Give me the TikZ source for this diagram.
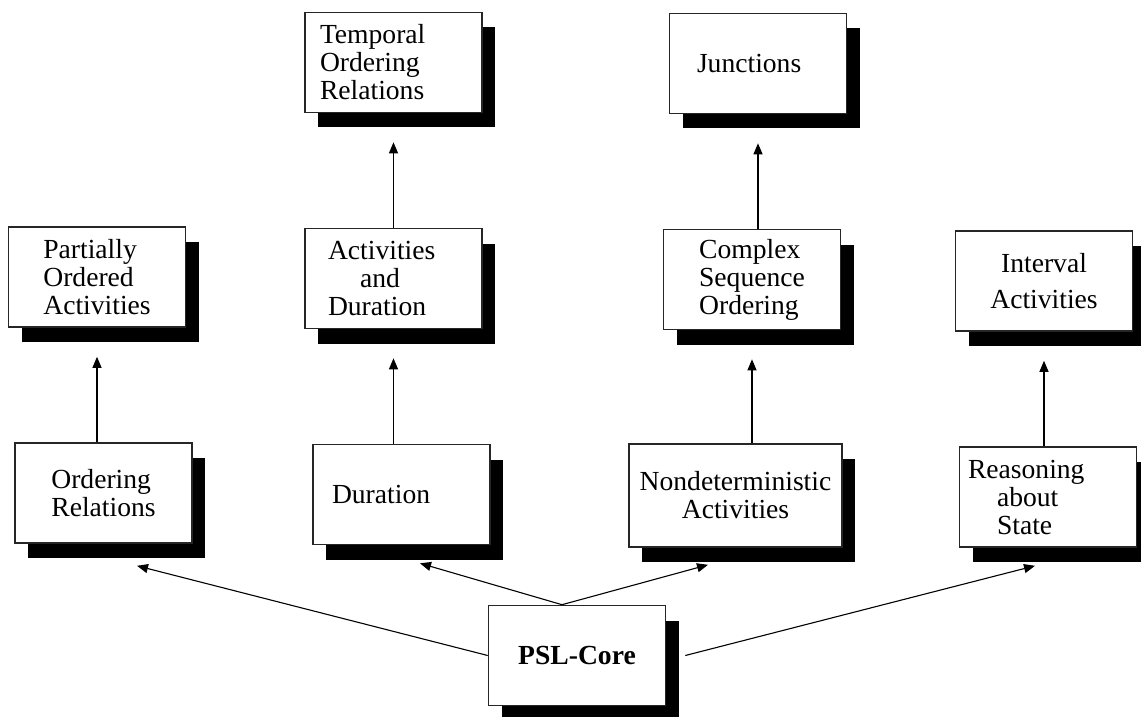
\documentclass[tikz,border=0pt]{standalone}
\usepackage{fontspec}
\setmainfont{Liberation Serif}
\usetikzlibrary{arrows.meta, positioning, shadows}
\tikzset{
  ->, % every connector is directed
  >={Triangle[length=5.5pt, width=4.5pt]}, % small solid heads
  node distance=108pt, % one row to the next
  box/.style={draw=black!85, line width=0.8pt, fill=white, rectangle,
    minimum width=88.5pt, minimum height=50pt, inner sep=0pt,
    align=left, font=\fontsize{13.8pt}{14pt}\selectfont,
    drop shadow={shadow xshift=6.5pt, shadow yshift=-7.5pt,
      fill=black, opacity=1}}, % black offset shadow
}

\begin{document}
\begin{tikzpicture}[x=0.5pt, y=-0.5pt, line width=0.55pt]
    \useasboundingbox (0,0) rectangle (1141,717);

    \node[box] (psl) at (577,655.5) {\textbf{PSL-Core}};
    \node[box] (ord) at (103.5,493) {Ordering\\Relations};
    \node[box, text width=69.5pt] (dur) at (401.5,494.5) {Duration};
    \node[box, minimum width=106.5pt, minimum height=51.5pt, align=center] (nondet) at (735.5,495.5) {Nondeterministic\\Activities};
    \node[box, text width=80pt] (reason) at (1048,497) {Reasoning\\\hspace*{14.5pt}about\\\hspace*{14.5pt}State};

    \node[box, above of=ord, xshift=-3.25pt] (part) {Partially\\Ordered\\Activities};
    \node[box, above of=dur, xshift=-4pt, text width=65.5pt] (actdur) {Activities\\\hspace*{16pt}and\\Duration};
    \node[box, above of=nondet, xshift=8.25pt] (complex) {Complex\\Sequence\\Ordering};
    \node[box, above of=reason, xshift=-2pt, align=center] (interval) {Interval\\[4pt]Activities};

    \node[box, above of=actdur, text width=73.5pt] (temporal) {Temporal\\Ordering\\Relations};
    \node[box, above of=complex, xshift=3pt, text width=61pt] (junct) {Junctions};

    \path
    (part.south |- ord.north) edge[shorten >=14.5pt] (part.south)
    (actdur.south |- dur.north) edge[shorten >=14.5pt] (actdur.south)
    (temporal.south |- actdur.north) edge[shorten >=14.5pt] (temporal.south)
    (complex.south |- nondet.north) edge[shorten >=14.5pt] (complex.south)
    (junct.south |- complex.north) edge[shorten >=14.5pt] (junct.south)
    (interval.south |- reason.north) edge[shorten >=14.5pt] (interval.south)

    ([xshift=-7.5pt]psl.north) edge ([xshift=9.25pt, yshift=-9pt]dur.south)
    ([xshift=-7.5pt]psl.north) edge ([xshift=-13.75pt, yshift=-8.5pt]nondet.south)
    (psl.west) edge ([xshift=16.75pt, yshift=-11pt]ord.south)
    ([xshift=9.5pt]psl.east) edge ([xshift=-6.5pt, yshift=-9pt]reason.south)
    ;

  \end{tikzpicture}
\end{document}
